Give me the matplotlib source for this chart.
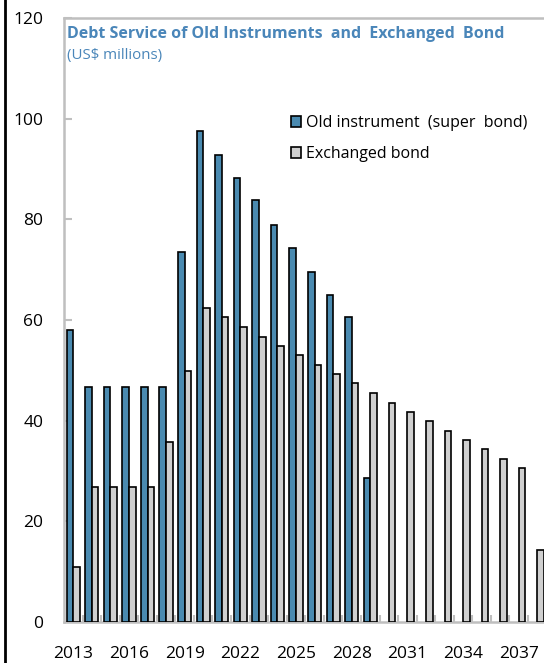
import matplotlib
matplotlib.use('Agg')
import matplotlib.pyplot as plt
import numpy as np
from matplotlib.lines import Line2D

# Debt service, US$ millions
years = list(range(2013, 2039))
old_instrument = [58.0, 46.6, 46.6, 46.6, 46.6, 46.6, 73.6, 97.6, 92.8, 88.3,
                  83.8, 78.9, 74.4, 69.5, 65.0, 60.5, 28.7, 0, 0, 0,
                  0, 0, 0, 0, 0, 0]
exchanged_bond = [11.0, 26.8, 26.8, 26.8, 26.8, 35.7, 49.9, 62.3, 60.5, 58.6,
                  56.7, 54.8, 53.0, 51.1, 49.3, 47.4, 45.4, 43.6, 41.7, 39.9,
                  38.0, 36.2, 34.3, 32.4, 30.5, 14.3]
tick_years = [2013, 2016, 2019, 2022, 2025, 2028, 2031, 2034, 2037]
y_ticks = [0, 20, 40, 60, 80, 100, 120]

BLUE = '#4A8AB0'
GREY = '#CFCFCF'
TITLE_BLUE = '#4A86B9'
FRAME = '#BFBFBF'

plt.rcParams['font.family'] = ['Open Sans', 'DejaVu Sans']

fig = plt.figure(figsize=(5.44, 6.63), dpi=100)
W, H = 544, 663
ax = fig.add_axes([64 / W, (H - 622) / H, 482.6 / W, (622 - 18) / H])

x = np.arange(len(years))
bw = 0.356
old = np.array(old_instrument)
has_old = old > 0  # no bar drawn once the old instrument is repaid
ax.bar(x[has_old] - bw / 2, old[has_old], width=bw, color=BLUE, edgecolor='black',
       linewidth=1.2, label='Old instrument  (super  bond)', zorder=3)
ax.bar(x + bw / 2, exchanged_bond, width=bw, color=GREY, edgecolor='black',
       linewidth=1.2, label='Exchanged bond', zorder=3)

ax.set_xlim(-0.5, len(years) - 0.5)
ax.set_ylim(0, 120)

# y axis
ax.set_yticks(y_ticks)
ax.tick_params(axis='y', direction='in', length=6, width=1.5, color=FRAME,
               pad=15, labelsize=12.5)

# x axis: labels at group centres, marks at group boundaries
ax.set_xticks([years.index(t) for t in tick_years])
ax.set_xticklabels([str(t) for t in tick_years])
ax.set_xticks(np.arange(len(years)) + 0.5, minor=True)
ax.tick_params(axis='x', which='major', length=0, pad=17, labelsize=12.5)
ax.tick_params(axis='x', which='minor', direction='in', length=5, width=1.5,
               color=FRAME)

for side in ['left', 'top', 'bottom']:
    ax.spines[side].set_color(FRAME)
    ax.spines[side].set_linewidth(1.8)
ax.spines['right'].set_visible(False)

# embedded chart title
fig.text(67 / W, 1 - 34 / H, 'Debt Service of Old Instruments  and  Exchanged  Bond',
         color=TITLE_BLUE, fontsize=11.5, fontweight='bold', va='center', ha='left')
fig.text(67 / W, 1 - 56 / H, '(US$ millions)', color=TITLE_BLUE, fontsize=10.8,
         va='center', ha='left')

leg = ax.legend(loc='upper left', bbox_to_anchor=(291 / W, 1 - 115 / H),
                bbox_transform=fig.transFigure, frameon=False, fontsize=11.5,
                handlelength=0.65, handleheight=0.65, handletextpad=0.3,
                labelspacing=0.95, borderaxespad=0, borderpad=0)

# outer border line on the left
fig.add_artist(Line2D([5 / W, 5 / W], [0, 1], color='black', linewidth=2,
                      transform=fig.transFigure))

fig.savefig('out.png', dpi=100)
